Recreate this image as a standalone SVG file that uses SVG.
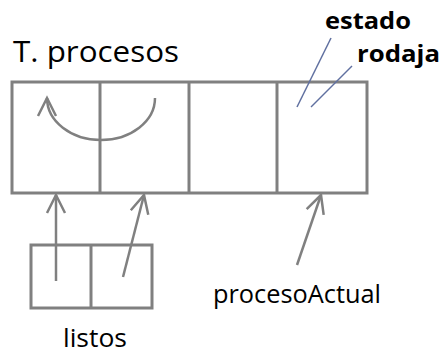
<svg xmlns="http://www.w3.org/2000/svg" width="443" height="354" viewBox="0 0 443 354">
<style>
.box{fill:none;stroke:#808080;stroke-width:3}
.arr{fill:none;stroke:#808080;stroke-width:2.5}
.lead{fill:none;stroke:#6070a0;stroke-width:1.5}
.t{font-family:"Open Sans",sans-serif;fill:#000}
.b{font-weight:bold}
</style>
<defs>
<marker id="open" markerUnits="userSpaceOnUse" markerWidth="24" markerHeight="24" viewBox="-20 -12 24 24" refX="0" refY="0" orient="auto">
<polyline points="-18,-9 0,0 -18,9" fill="none" stroke="#808080" stroke-width="2.5"/>
</marker>
</defs>
<rect width="443" height="354" fill="#fff"/>
<g id="tprocesos">
<text class="t" x="13" y="62" font-size="30" textLength="166" lengthAdjust="spacingAndGlyphs">T. procesos</text>
<rect class="box" x="12" y="82" width="355" height="111"/>
<line class="box" x1="100" y1="82" x2="100" y2="193"/>
<line class="box" x1="189" y1="82" x2="189" y2="193"/>
<line class="box" x1="277" y1="82" x2="277" y2="193"/>
</g>
<g id="listos">
<rect class="box" x="31" y="245" width="121" height="63"/>
<line class="box" x1="91" y1="245" x2="91" y2="308"/>
<text class="t" x="63" y="347" font-size="26" textLength="64" lengthAdjust="spacingAndGlyphs">listos</text>
</g>
<g id="labels">
<text class="t b" x="325" y="29" font-size="24" textLength="86" lengthAdjust="spacingAndGlyphs">estado</text>
<text class="t b" x="357" y="62" font-size="24" textLength="83" lengthAdjust="spacingAndGlyphs">rodaja</text>
<text class="t" x="213" y="303" font-size="25" textLength="168" lengthAdjust="spacingAndGlyphs">procesoActual</text>
</g>
<g id="connectors">
<path class="arr" d="M155,98 A54,42 0 0 1 47,98" marker-end="url(#open)"/>
<line class="arr" x1="56" y1="281" x2="56" y2="195" marker-end="url(#open)"/>
<line class="arr" x1="123" y1="277" x2="144" y2="195" marker-end="url(#open)"/>
<line class="arr" x1="297" y1="265" x2="321" y2="195" marker-end="url(#open)"/>
<line class="lead" x1="331" y1="38" x2="297" y2="107"/>
<line class="lead" x1="352" y1="66" x2="311" y2="107"/>
</g>
</svg>
